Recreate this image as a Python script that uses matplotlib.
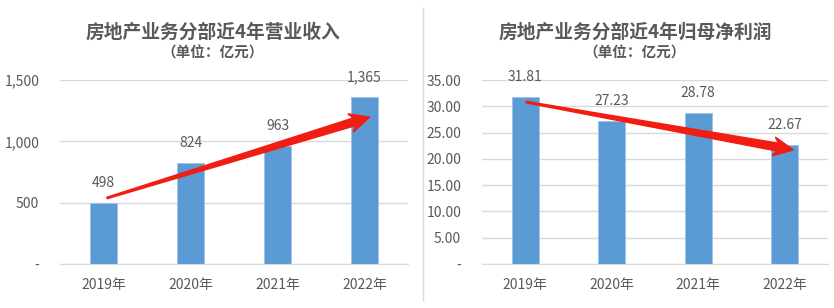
import matplotlib

matplotlib.use("Agg")
import matplotlib.pyplot as plt
import numpy as np
from matplotlib.lines import Line2D
from matplotlib.patches import Polygon
from matplotlib.ticker import FuncFormatter
from matplotlib.transforms import IdentityTransform

plt.rcParams["font.family"] = ["Noto Sans CJK SC", "DejaVu Sans"]

YEARS = ["2019年", "2020年", "2021年", "2022年"]
REVENUE = [498, 824, 963, 1365]
PROFIT = [31.81, 27.23, 28.78, 22.67]

# trend arrows, (x, y) in data coords: start -> tip
REV_ARROW = [(0.04, 538), (3.06, 1198)]
PROFIT_ARROW = [(0.01, 30.8), (3.10, 21.7)]

BAR = "#5b9bd5"
GRID = "#d9d9d9"
TEXT = "#595959"
ARROW = "#f21d12"
W, H = 834, 308


def tapered_arrow(ax, start, end, tail_w=1.5, shaft_w=8, head_w=19, head_len=16):
    p0 = ax.transData.transform(start)
    p1 = ax.transData.transform(end)
    d = (p1 - p0) / np.hypot(*(p1 - p0))
    n = np.array([-d[1], d[0]])
    base = p1 - d * head_len
    pts = [
        p0 + n * tail_w / 2,
        base + n * shaft_w / 2,
        base - d * 4 + n * head_w / 2,
        p1,
        base - d * 4 - n * head_w / 2,
        base - n * shaft_w / 2,
        p0 - n * tail_w / 2,
    ]
    ax.add_patch(Polygon(pts, closed=True, color=ARROW, transform=IdentityTransform(), clip_on=False, zorder=5))


def panel(ax, values, ymax, step, fmt, label_fmt, arrow):
    x = np.arange(len(YEARS))
    ax.bar(x, values, width=0.31, color=BAR, edgecolor="#9dc3e6", linewidth=0.6, zorder=2)
    for xi, v in zip(x, values):
        ax.annotate(label_fmt(v), (xi, v), xytext=(0, 9), textcoords="offset points",
                    ha="center", va="bottom", fontsize=10, color=TEXT)
    ax.set_xlim(-0.5, len(YEARS) - 0.5)
    ax.set_ylim(0, ymax)
    ax.set_yticks(np.arange(0, ymax + step / 2, step))
    ax.yaxis.set_major_formatter(FuncFormatter(lambda v, _: "-" if v == 0 else fmt(v)))
    ax.set_xticks(x, YEARS)
    ax.grid(axis="y", color=GRID, lw=1, zorder=0)
    ax.tick_params(length=0, colors=TEXT, labelsize=10)
    ax.tick_params(axis="y", pad=15)
    ax.tick_params(axis="x", pad=10)
    for s in ("left", "right", "top"):
        ax.spines[s].set_visible(False)
    ax.spines["bottom"].set_color(GRID)
    tapered_arrow(ax, *arrow)


fig = plt.figure(figsize=(W / 100, H / 100), dpi=100)
ax1 = fig.add_axes([60 / W, 44 / H, 348 / W, 184 / H])
ax2 = fig.add_axes([482 / W, 44 / H, 346 / W, 184 / H])

panel(ax1, REVENUE, 1500, 500, lambda v: f"{v:,.0f}", lambda v: f"{v:,}", REV_ARROW)
panel(ax2, PROFIT, 35, 5, lambda v: f"{v:.2f}", lambda v: f"{v:.2f}", PROFIT_ARROW)

for cx, title in [(213, "房地产业务分部近4年营业收入"), (635, "房地产业务分部近4年归母净利润")]:
    fig.text(cx / W, 1 - 32 / H, title, ha="center", va="center", fontsize=13.5, fontweight="bold", color=TEXT)
    fig.text(cx / W, 1 - 53 / H, "（单位：亿元）", ha="center", va="center", fontsize=10.5, fontweight="bold", color=TEXT)

fig.add_artist(Line2D([423 / W, 423 / W], [8 / H, 300 / H], color=GRID, lw=1))

fig.savefig("out.png", dpi=100)
